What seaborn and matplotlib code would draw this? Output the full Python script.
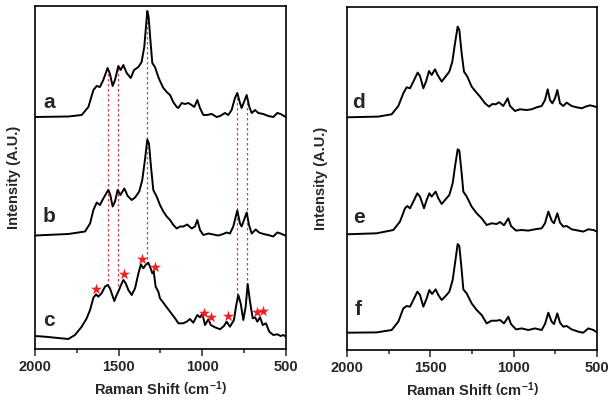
"""
Raman spectra comparison: stacked spectra a-c (left) and d-f (right)
"""

import numpy as np
import matplotlib
matplotlib.use("Agg")
import matplotlib.pyplot as plt
import seaborn as sns
from matplotlib.ticker import MultipleLocator

sns.set_style("ticks")
plt.rcParams['font.family'] = ['Liberation Sans', 'DejaVu Sans']
plt.rcParams['font.weight'] = 'bold'
plt.rcParams['mathtext.fontset'] = 'custom'
plt.rcParams['mathtext.rm'] = 'Liberation Sans:bold'
plt.rcParams['mathtext.it'] = 'Liberation Sans:bold'
plt.rcParams['mathtext.bf'] = 'Liberation Sans:bold'

# ---- spectra (wavenumber cm-1, intensity above own baseline) ----
a_w = [2000, 1801, 1721, 1681, 1651, 1631, 1612, 1592, 1566, 1552, 1536, 1522, 1502, 1488, 1472,
       1452, 1428, 1408, 1382, 1363, 1347, 1337, 1329, 1321, 1309, 1299, 1283, 1263, 1253, 1233,
       1213, 1193, 1174, 1153, 1144, 1123, 1104, 1084, 1064, 1048, 1030, 1014, 994, 974, 944,
       914, 894, 865, 845, 825, 805, 791, 775, 765, 751, 735, 719, 705, 685, 666,
       636, 606, 576, 552, 532, 512, 500]
a_i = [0, 0.5, 2, 10, 27, 31, 30, 37, 49, 43, 31, 37, 51, 47, 52,
       44, 39, 47, 50, 55, 70, 90, 106, 100, 74, 54, 50, 40, 36, 29,
       25, 22, 15, 10, 9, 14, 13, 14, 12, 10, 17, 9, 2, 2, 3,
       0, 1, 4, 2, 7, 19, 24, 14, 9, 15, 22, 10, 4, 7, 4,
       3, 1, 0, 4, 3, 1, 0]

b_w = [2000, 1801, 1701, 1671, 1651, 1631, 1612, 1592, 1562, 1550, 1536, 1522, 1506, 1490, 1466,
       1446, 1422, 1402, 1377, 1359, 1343, 1329, 1319, 1307, 1293, 1273, 1253, 1233, 1213, 1193,
       1173, 1153, 1133, 1114, 1090, 1064, 1044, 1030, 1014, 994, 964, 934, 904, 875, 855,
       835, 815, 791, 775, 765, 751, 735, 721, 705, 681, 661, 635, 606, 576, 552,
       532, 512, 500]
b_i = [0, 1.5, 4, 12, 25.5, 33, 30.5, 37, 45.5, 40.5, 29, 34, 45.5, 40.5, 47,
       39.5, 35.5, 38, 44, 55.5, 75.5, 96, 92, 69, 45.5, 39, 30.5, 24, 19, 15.5,
       10.5, 7, 9, 9, 11, 7, 9, 15.5, 5.5, 0.5, 2, 1, 0, 1.5, 3,
       2, 9, 25, 12, 9, 15.5, 23, 10.5, 2, 6, 3, 1.5, 0.5, -1, 3,
       2, 0.5, 0]

c_w = [2000, 1940, 1880, 1801, 1761, 1721, 1691, 1671, 1651, 1635, 1622, 1602, 1582, 1566, 1552,
       1526, 1512, 1498, 1486, 1472, 1458, 1442, 1422, 1402, 1382, 1367, 1353, 1339, 1323, 1309,
       1299, 1291, 1279, 1263, 1253, 1223, 1193, 1163, 1143, 1114, 1094, 1074, 1054, 1030, 1014,
       1000, 984, 964, 950, 924, 894, 871, 855, 835, 811, 799, 785, 771, 755, 741,
       729, 715, 699, 685, 671, 655, 639, 620, 600, 576, 552, 532, 516, 500]
c_i = [2, 1.3, 0.3, -1, 3, 11.3, 19.7, 28, 40.3, 43.7, 41.3, 44.7, 51.3, 53, 49.7,
       37, 43, 48, 53, 58, 54.7, 48, 43, 49.7, 64.7, 73.7, 69.7, 73, 75.3, 69.7,
       64.7, 67, 51.3, 46.3, 39.7, 33, 26.3, 19.7, 14.7, 14.7, 16.3, 19, 15.3, 23, 20.7,
       24, 13, 18.7, 13, 10.7, 8.7, 12, 16.3, 11.3, 18, 31.3, 43, 34.7, 18, 31.3,
       54, 36.3, 19.7, 20.7, 16.3, 20.7, 13, 14.7, 6.3, 3, 3.7, 2, 3, 1.3]

d_w = [2000, 1812, 1732, 1692, 1662, 1642, 1622, 1602, 1576, 1562, 1542, 1526, 1508, 1492, 1472,
       1456, 1432, 1412, 1386, 1368, 1352, 1336, 1326, 1312, 1298, 1278, 1252, 1228, 1202, 1172,
       1148, 1128, 1108, 1088, 1062, 1036, 1022, 992, 962, 922, 892, 862, 832, 812, 796,
       782, 768, 752, 738, 722, 702, 682, 652, 622, 592, 568, 542, 512, 500]
d_i = [0, 0.7, 3, 11.3, 24, 30, 29, 35.7, 44.7, 41.3, 29, 35.7, 46.3, 42.3, 48,
       42.3, 35.7, 40, 45.7, 55.7, 74, 90.7, 87.3, 64, 45.7, 40.7, 30.7, 25.7, 20.7, 14,
       10.7, 13.3, 13, 15, 11.3, 19, 11.3, 6.3, 8, 7.3, 8, 10, 11.3, 17.3, 28,
       17.3, 14, 19, 27.3, 14, 11.3, 14.7, 11.3, 10, 9, 10.7, 12, 10.7, 10]

e_w = [2000, 1822, 1722, 1682, 1652, 1638, 1622, 1602, 1578, 1562, 1538, 1522, 1506, 1492, 1468,
       1452, 1432, 1412, 1386, 1366, 1352, 1336, 1326, 1312, 1302, 1282, 1252, 1222, 1192, 1162,
       1132, 1102, 1082, 1058, 1032, 1016, 986, 952, 912, 872, 832, 812, 792, 772, 758,
       738, 722, 702, 682, 652, 612, 582, 552, 522, 500]
e_i = [0, 1, 4.3, 12.7, 26, 28.3, 26, 32.7, 41, 37.7, 26, 34.3, 41, 37.7, 42.7,
       36, 30.3, 34.3, 39.3, 51, 67.7, 85, 83.7, 61, 42.7, 37.7, 27.7, 21, 16, 9.3,
       11, 10.3, 12.3, 9, 16, 8.3, 3.7, 4.3, 3.7, 5, 6, 11, 22.7, 13.7, 11,
       21, 11.7, 7.7, 8.3, 5, 3.7, 2.7, 5, 4.3, 2.7]

f_w = [2000, 1822, 1732, 1692, 1662, 1642, 1622, 1602, 1578, 1562, 1542, 1522, 1506, 1490, 1468,
       1452, 1432, 1412, 1386, 1366, 1352, 1336, 1326, 1312, 1302, 1282, 1252, 1222, 1192, 1162,
       1132, 1102, 1082, 1058, 1032, 1016, 986, 952, 912, 872, 832, 812, 792, 772, 758,
       738, 722, 702, 682, 652, 612, 582, 552, 522, 500]
f_i = [0, 0.3, 2.7, 11, 24.3, 26.7, 26, 32.7, 41, 37.7, 26, 34.3, 42.7, 38.7, 43.3,
       37.7, 32.7, 36, 41, 52.7, 69.3, 88.7, 86.7, 62.7, 43.3, 39.3, 29.3, 22.7, 17.7, 9.3,
       12, 12, 12.7, 9.3, 16, 8.7, 3.3, 4.3, 2.7, 4.3, 2.7, 8.7, 20, 11, 8.7,
       19.3, 10, 6, 6.7, 3.3, 1, 0, 4.3, 2.7, 0.3]

left_names = ['a', 'b', 'c']
left_offsets = [232, 113.5, 11]
right_names = ['d', 'e', 'f']
right_offsets = [232.7, 115.7, 17.3]

# bands marked with dotted lines (a -> c) and extra bands of c (asterisks)
peak_lines = [1562, 1502, 1329, 791, 732]
star_w = [1635, 1466, 1362, 1283, 990, 950, 849, 675, 636]
star_h = [49, 63.7, 78.7, 71.3, 25.3, 21.3, 22, 26.3, 27.3]

spectra = {'a': (a_w, a_i), 'b': (b_w, b_i), 'c': (c_w, c_i),
           'd': (d_w, d_i), 'e': (e_w, e_i), 'f': (f_w, f_i)}


def style_axis(ax):
    ax.set_xlim(2000, 500)
    ax.set_ylim(0, 343)
    ax.xaxis.set_major_locator(MultipleLocator(500))
    ax.xaxis.set_minor_locator(MultipleLocator(250))
    ax.tick_params(axis='x', which='major', direction='out', length=5, width=1.1,
                   labelsize=10.5, pad=3, top=False)
    ax.tick_params(axis='x', which='minor', direction='out', length=3, width=1.1, top=False)
    ax.set_yticks([])
    for s in ax.spines.values():
        s.set_visible(True)
        s.set_linewidth(1.2)
        s.set_color('black')
    for lab in ax.get_xticklabels():
        lab.set_fontweight('bold')
    ax.set_xlabel(r"Raman Shift $\left(\mathrm{cm^{-1}}\right)$", fontsize=10.5, fontweight='bold')
    ax.set_ylabel("Intensity (A.U.)", fontsize=10.5, fontweight='bold')


def draw_panel(ax, names, offsets, label_pos):
    for name, off, (lx, ly) in zip(names, offsets, label_pos):
        w, i = spectra[name]
        y = np.array(i) + off
        sns.lineplot(x=w, y=y, ax=ax, color='black', linewidth=1.4,
                     estimator=None, sort=False, zorder=2)
        ax.text(lx, ly, name, fontsize=15, fontweight='bold', ha='left', va='baseline')


fig = plt.figure(figsize=(6.12, 4.07), dpi=100)
ax1 = fig.add_axes([35 / 612, 1 - 349 / 407, 251 / 612, 343 / 407])
ax2 = fig.add_axes([347 / 612, 1 - 350 / 407, 250 / 612, 343 / 407])

draw_panel(ax1, left_names, left_offsets, [(1950, 240.7), (1952, 127.3), (1954, 23.3)])
draw_panel(ax2, right_names, right_offsets, [(1968, 241.7), (1962, 126.7), (1956, 35)])

# dotted guide lines from spectrum c up to spectrum a
a_curve = (np.array(a_w[::-1]), np.array(a_i[::-1]) + left_offsets[0])
c_curve = (np.array(c_w[::-1]), np.array(c_i[::-1]) + left_offsets[2])
for p in peak_lines:
    y_top = np.interp(p, *a_curve)
    y_bot = np.interp(p, *c_curve)
    ax1.plot([p, p], [y_bot, y_top], color='#d83a3a', linewidth=0.9,
             linestyle=(0, (2, 2)), zorder=1.5)

# asterisks on c
ax1.scatter(star_w, np.array(star_h) + left_offsets[2], marker='*', s=70,
            color='#f02020', linewidths=0, zorder=3)

for ax, lx in ((ax1, -0.056), (ax2, -0.076)):
    style_axis(ax)
    ax.yaxis.set_label_coords(lx, 0.5)
    ax.xaxis.set_label_coords(0.5, -0.09)

plt.savefig("out.png", dpi=100, facecolor='white')
